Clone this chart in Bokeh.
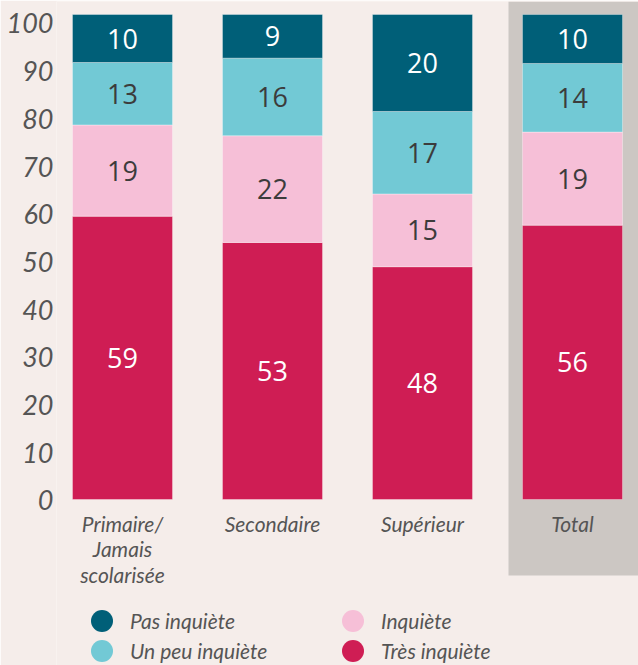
import numpy as np
from bokeh.plotting import figure
from bokeh.models import (ColumnDataSource, FactorRange, Range1d, LinearAxis, FixedTicker,
                          BoxAnnotation, Legend, LegendItem)
from bokeh.core.properties import value
from bokeh.embed import file_html
from bokeh.resources import INLINE

# ---- data ----
categories = ["Primaire/\nJamais\nscolarisée", "Secondaire", "Supérieur", "Total"]
pas_inquiete = [10, 9, 20, 10]
un_peu_inquiete = [13, 16, 17, 14]
inquiete = [19, 22, 15, 19]
tres_inquiete = [59, 53, 48, 56]
series_labels = ["Très inquiète", "Inquiète", "Un peu inquiète", "Pas inquiète"]
y_ticks = [0, 10, 20, 30, 40, 50, 60, 70, 80, 90, 100]

# ---- style ----
BG = "#f5edea"
GREY = "#ccc7c3"
colors = ["#cf1d54", "#f6bfd7", "#72c9d5", "#005f78"]
text_colors = ["#ffffff", "#3c3c3c", "#3c3c3c", "#ffffff"]
LABEL = "#555555"

raw = [tres_inquiete, inquiete, un_peu_inquiete, pas_inquiete]
keys = ["tres", "inq", "unpeu", "pas"]
totals = np.sum(np.array(raw, dtype=float), axis=0)
norm = [np.array(s, dtype=float) / totals * 100 for s in raw]

data = {"cat": categories}
for k, s in zip(keys, norm):
    data[k] = s
source = ColumnDataSource(data)

p = figure(frame_width=582, frame_height=664, output_backend="svg", toolbar_location=None,
           x_range=FactorRange(factors=categories, range_padding=-0.06,
                               range_padding_units="absolute"),
           y_range=Range1d(-34.23, 102.68), y_axis_location=None,
           min_border_left=56, min_border_right=0, min_border_top=1,
           min_border_bottom=0)
p.background_fill_color = BG
p.border_fill_color = BG
p.outline_line_color = None
p.xgrid.visible = False
p.ygrid.visible = False

# highlight band behind the "Total" column (down to below its label)
band = BoxAnnotation(left=3.0733, bottom=-15.67, fill_color=GREY, fill_alpha=1,
                     line_color=None, level="underlay")
p.add_layout(band)

bars = p.vbar_stack(keys, x="cat", width=0.667, color=colors, source=source,
                    line_color="white", line_alpha=0.35, line_width=1)

bottom = np.zeros(len(categories))
for s_raw, s_norm, tc in zip(raw, norm, text_colors):
    mids = bottom + s_norm / 2
    p.text(x=categories, y=list(mids), text=[str(v) for v in s_raw],
           text_align="center", text_baseline="middle",
           text_font=value("Open Sans"), text_font_size="27px", text_color=tc)
    bottom = bottom + s_norm

# y axis (labels on their own range)
p.extra_y_ranges = {"lab": Range1d(-34.59, 104.6)}
yax = LinearAxis(y_range_name="lab", ticker=FixedTicker(ticks=y_ticks))
yax.axis_line_color = None
yax.major_tick_line_color = None
yax.minor_tick_line_color = None
yax.major_tick_out = 0
yax.major_tick_in = 0
yax.major_label_standoff = 3
yax.major_label_text_font = "Lato"
yax.major_label_text_font_style = "italic"
yax.major_label_text_font_size = "27px"
yax.major_label_text_color = LABEL
p.add_layout(yax, "left")

xax = p.xaxis[0]
xax.axis_line_color = None
xax.major_tick_line_color = None
xax.minor_tick_line_color = None
xax.major_tick_out = 0
xax.major_tick_in = 0
xax.major_label_standoff = -155
xax.major_label_text_font = "Lato"
xax.major_label_text_font_style = "italic"
xax.major_label_text_font_size = "21px"
xax.major_label_text_color = LABEL
xax.major_label_text_line_height = 1.03

# ---- legend ----
dots = [p.scatter(x=[np.nan], y=[np.nan], marker="circle", fill_color=c, line_color=None)
        for c in colors]

def make_legend(items, y):
    lg = Legend(items=items, orientation="horizontal", location=(18, y),
                glyph_width=55, glyph_height=55, label_standoff=1, label_width=195,
                spacing=0, padding=0, margin=0, border_line_color=None,
                background_fill_alpha=0, label_text_font="Lato",
                label_text_font_style="italic", label_text_font_size="21px",
                label_text_color=LABEL)
    p.add_layout(lg)

make_legend([LegendItem(label=series_labels[3], renderers=[dots[3]]),
             LegendItem(label=series_labels[1], renderers=[dots[1]])], 17.5)
make_legend([LegendItem(label=series_labels[2], renderers=[dots[2]]),
             LegendItem(label=series_labels[0], renderers=[dots[0]])], -13)

html = file_html(p, INLINE)
html = html.replace("<body>", '<body style="background-color:%s;">' % BG, 1)
open("out.html", "w").write(html)
